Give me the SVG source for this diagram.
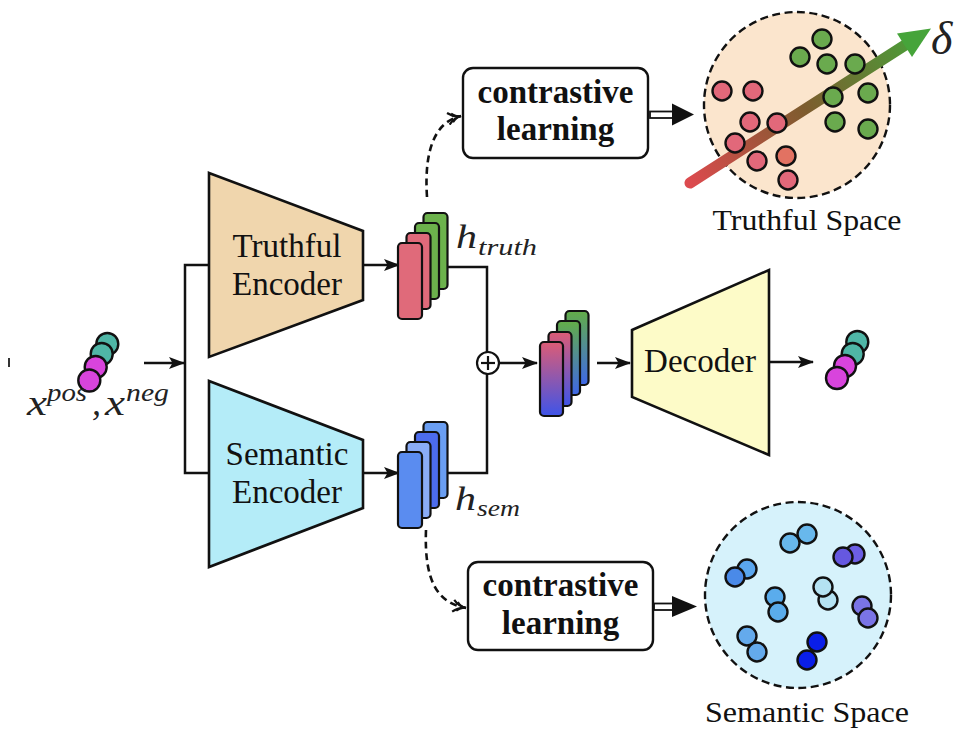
<svg xmlns="http://www.w3.org/2000/svg" width="954" height="729" viewBox="0 0 954 729">
  <defs>
    <style>
      .lbl { font-family: "Liberation Serif", "Times New Roman", serif; fill: #111; }
      .big { font-size: 33px; }
      .bold { font-size: 33px; font-weight: bold; }
      .cap { font-size: 30px; }
      .math { font-family: "Liberation Serif", "Times New Roman", serif; font-style: italic; fill: #222; }
      .wire { fill: none; stroke: #111; stroke-width: 2.5; }
      .dash { fill: none; stroke: #111; stroke-width: 2.6; stroke-dasharray: 7 4.5; }
      .feat { stroke: #111; stroke-width: 2.2; }
      .dot { stroke: #111; stroke-width: 2.4; }
      .box { fill: #fff; stroke: #111; stroke-width: 2.4; }
      .space { stroke: #111; stroke-width: 2.4; stroke-dasharray: 8 4.5; }
    </style>
    <marker id="arrow" viewBox="0 0 16 12" refX="15" refY="6" markerWidth="16" markerHeight="12" markerUnits="userSpaceOnUse" orient="auto">
      <path d="M0,0 L16,6 L0,12 L3.5,6 z" fill="#111"/>
    </marker>
    <marker id="open" viewBox="0 0 16 14" refX="14" refY="7" markerWidth="16" markerHeight="14" markerUnits="userSpaceOnUse" orient="auto">
      <path d="M1,1 Q7,7 14,7 Q7,7 1,13" fill="none" stroke="#111" stroke-width="2.2"/>
      <path d="M5,2.5 Q9,7 14,7 Q9,7 5,11.5" fill="none" stroke="#111" stroke-width="1.8"/>
    </marker>
    <linearGradient id="pinkBlue" x1="0" y1="0" x2="0" y2="1">
      <stop offset="0" stop-color="#dc5c76"/>
      <stop offset="1" stop-color="#3e54e8"/>
    </linearGradient>
    <linearGradient id="greenBlue" x1="0" y1="0" x2="0" y2="1">
      <stop offset="0" stop-color="#62ad48"/>
      <stop offset="1" stop-color="#3f68e8"/>
    </linearGradient>
    <linearGradient id="delta" gradientUnits="userSpaceOnUse" x1="690" y1="183" x2="930" y2="29">
      <stop offset="0" stop-color="#dc4a4e"/>
      <stop offset="0.48" stop-color="#7d5c2e"/>
      <stop offset="1" stop-color="#44a63a"/>
    </linearGradient>
  </defs>

  <rect width="954" height="729" fill="#fff"/>

  <!-- stray tick at left margin -->
  <line x1="9" y1="358" x2="9" y2="367" stroke="#333" stroke-width="2"/>

  <!-- connectors -->
  <g id="connectors">
    <line class="wire" x1="144" y1="363" x2="184" y2="363" marker-end="url(#arrow)"/>
    <polyline class="wire" points="209,265 185,265 185,473 209,473"/>
    <line class="wire" x1="363" y1="265" x2="399" y2="265" marker-end="url(#arrow)"/>
    <line class="wire" x1="363" y1="473" x2="399" y2="473" marker-end="url(#arrow)"/>
    <polyline class="wire" points="448,267 487,267 487,473 448,473"/>
    <line class="wire" x1="499" y1="363" x2="537" y2="363" marker-end="url(#arrow)"/>
    <line class="wire" x1="597" y1="363" x2="630" y2="363" marker-end="url(#arrow)"/>
    <line class="wire" x1="769" y1="362" x2="813" y2="362" marker-end="url(#arrow)"/>
    <path class="dash" d="M427,197 C424,152 434,122 461,116" marker-end="url(#open)"/>
    <path class="dash" d="M426,530 C424,582 438,603 466,608" marker-end="url(#open)"/>
    <!-- hollow double arrows -->
    <rect x="650" y="111.5" width="24" height="6.5" fill="#fff" stroke="#111" stroke-width="1.8"/>
    <path d="M672,103.5 L694,114.5 L672,125.5 z" fill="#111"/>
    <rect x="654" y="603.5" width="20" height="6.5" fill="#fff" stroke="#111" stroke-width="1.8"/>
    <path d="M672,596 L697,606.5 L672,617 z" fill="#111"/>
  </g>

  <!-- input samples -->
  <g id="input">
    <circle class="dot" cx="107.3" cy="344" r="11" fill="#4fb6a6"/>
    <circle class="dot" cx="101.7" cy="354" r="11" fill="#4fb6a6"/>
    <circle class="dot" cx="95.7" cy="367" r="11" fill="#d844dc"/>
    <circle class="dot" cx="89.3" cy="380.5" r="11" fill="#d844dc"/>
    <text class="math" x="27" y="415" font-size="36" textLength="20" lengthAdjust="spacingAndGlyphs">x</text>
    <text class="math" x="47" y="401" font-size="25" textLength="40" lengthAdjust="spacingAndGlyphs">pos</text>
    <text class="math" x="92" y="415" font-size="36">,</text>
    <text class="math" x="105" y="415" font-size="36" textLength="20" lengthAdjust="spacingAndGlyphs">x</text>
    <text class="math" x="126" y="401" font-size="25" textLength="43" lengthAdjust="spacingAndGlyphs">neg</text>
  </g>

  <!-- truthful encoder -->
  <g id="truthful-encoder">
    <polygon points="209,173 363,231 363,300 209,357" fill="#f0d6ad" stroke="#111" stroke-width="2.6"/>
    <text class="lbl big" x="287" y="257" text-anchor="middle">Truthful</text>
    <text class="lbl big" x="287" y="295" text-anchor="middle">Encoder</text>
  </g>

  <!-- semantic encoder -->
  <g id="semantic-encoder">
    <polygon points="209,381 363,440 363,508 209,567" fill="#b4ecf8" stroke="#111" stroke-width="2.6"/>
    <text class="lbl big" x="287" y="465" text-anchor="middle">Semantic</text>
    <text class="lbl big" x="287" y="503" text-anchor="middle">Encoder</text>
  </g>

  <!-- truthful features -->
  <g id="h-truth">
    <rect class="feat" x="423.5" y="213" width="24" height="76" rx="4" fill="#6cb24c"/>
    <rect class="feat" x="415" y="223" width="24" height="76" rx="4" fill="#6cb24c"/>
    <rect class="feat" x="406.5" y="233" width="24" height="76" rx="4" fill="#e06a7a"/>
    <rect class="feat" x="398" y="243" width="24" height="76" rx="4" fill="#e06a7a"/>
    <text class="math" x="456" y="248" font-size="34" textLength="21" lengthAdjust="spacingAndGlyphs">h</text>
    <text class="math" x="478" y="255" font-size="23" textLength="59" lengthAdjust="spacingAndGlyphs">truth</text>
  </g>

  <!-- semantic features -->
  <g id="h-sem">
    <rect class="feat" x="423.5" y="422" width="24" height="76" rx="4" fill="#6a9ef2"/>
    <rect class="feat" x="415" y="432" width="24" height="76" rx="4" fill="#4c6cee"/>
    <rect class="feat" x="406.5" y="442" width="24" height="76" rx="4" fill="#8aacf6"/>
    <rect class="feat" x="398" y="452" width="24" height="76" rx="4" fill="#5a8cf0"/>
    <text class="math" x="455" y="510" font-size="34" textLength="21" lengthAdjust="spacingAndGlyphs">h</text>
    <text class="math" x="477" y="516" font-size="23" textLength="43" lengthAdjust="spacingAndGlyphs">sem</text>
  </g>

  <!-- fusion -->
  <g id="merge">
    <circle cx="488" cy="363" r="11" fill="#fff" stroke="#111" stroke-width="2.2"/>
    <line x1="481" y1="363" x2="495" y2="363" stroke="#111" stroke-width="2.2"/>
    <line x1="488" y1="356" x2="488" y2="370" stroke="#111" stroke-width="2.2"/>
  </g>

  <!-- fused features -->
  <g id="fused">
    <rect class="feat" x="565.5" y="311" width="23" height="74" rx="4" fill="url(#greenBlue)"/>
    <rect class="feat" x="557" y="321" width="23" height="74" rx="4" fill="url(#greenBlue)"/>
    <rect class="feat" x="548.5" y="332" width="23" height="74" rx="4" fill="url(#pinkBlue)"/>
    <rect class="feat" x="540" y="342" width="23" height="74" rx="4" fill="url(#pinkBlue)"/>
  </g>

  <!-- decoder -->
  <g id="decoder">
    <polygon points="632,330 769,270 769,455 632,397" fill="#fdfbc8" stroke="#111" stroke-width="2.6"/>
    <text class="lbl big" x="700" y="372" text-anchor="middle">Decoder</text>
  </g>

  <!-- reconstructed samples -->
  <g id="output">
    <circle class="dot" cx="857.3" cy="342" r="11" fill="#4fb6a6"/>
    <circle class="dot" cx="852.7" cy="354" r="11" fill="#4fb6a6"/>
    <circle class="dot" cx="845" cy="366" r="11" fill="#d844dc"/>
    <circle class="dot" cx="837" cy="378" r="11" fill="#d844dc"/>
  </g>

  <!-- contrastive learning (truthful) -->
  <g id="cl-top">
    <rect class="box" x="463" y="68" width="185" height="90" rx="10"/>
    <text class="lbl bold" x="555.5" y="103" text-anchor="middle">contrastive</text>
    <text class="lbl bold" x="555.5" y="140" text-anchor="middle">learning</text>
  </g>

  <!-- contrastive learning (semantic) -->
  <g id="cl-bottom">
    <rect class="box" x="468" y="562" width="185" height="88" rx="10"/>
    <text class="lbl bold" x="560.5" y="596" text-anchor="middle">contrastive</text>
    <text class="lbl bold" x="560.5" y="634" text-anchor="middle">learning</text>
  </g>

  <!-- truthful space -->
  <g id="truthful-space">
    <circle class="space" cx="797" cy="105" r="93" fill="#fbe5cd"/>
    <line x1="690" y1="183" x2="906" y2="44.5" stroke="url(#delta)" stroke-width="11" stroke-linecap="round"/>
    <polygon points="931,28.5 912,57 897,33.5" fill="#46a43a"/>
    <g fill="#6aaa4e" class="dot">
      <circle cx="822" cy="39" r="9.5"/>
      <circle cx="800" cy="57" r="9.5"/>
      <circle cx="827" cy="64" r="9.5"/>
      <circle cx="855" cy="64" r="9.5"/>
      <circle cx="833" cy="97" r="9.5"/>
      <circle cx="868" cy="93" r="9.5"/>
      <circle cx="835" cy="122" r="9.5"/>
      <circle cx="868" cy="129" r="9.5"/>
    </g>
    <g fill="#e2687a" class="dot">
      <circle cx="722" cy="91" r="9.5"/>
      <circle cx="753" cy="91" r="9.5"/>
      <circle cx="750" cy="122" r="9.5"/>
      <circle cx="777" cy="123" r="9.5"/>
      <circle cx="735" cy="143" r="9.5"/>
      <circle cx="757" cy="161" r="9.5"/>
      <circle cx="788" cy="180" r="9.5"/>
      <circle cx="786" cy="156" r="9.5" fill="#e27262"/>
    </g>
    <text class="math" x="931" y="54" font-size="46">δ</text>
    <text class="lbl cap" x="807" y="230" text-anchor="middle" textLength="189" lengthAdjust="spacingAndGlyphs">Truthful Space</text>
  </g>

  <!-- semantic space -->
  <g id="semantic-space">
    <circle class="space" cx="798" cy="595" r="93" fill="#d6f2fb"/>
    <g class="dot">
      <circle cx="807" cy="534" r="9.5" fill="#68b8ec"/>
      <circle cx="790" cy="543" r="9.5" fill="#68b8ec"/>
      <circle cx="855" cy="554" r="9.5" fill="#6c5ee4"/>
      <circle cx="843" cy="557" r="9.5" fill="#6658e0"/>
      <circle cx="747" cy="569" r="9.5" fill="#5aa6ee"/>
      <circle cx="735" cy="577" r="9.5" fill="#4a8ae8"/>
      <circle cx="828" cy="600" r="9.5" fill="#b4e2f2"/>
      <circle cx="823" cy="587" r="9.5" fill="#b4e2f2"/>
      <circle cx="775" cy="597" r="9.5" fill="#5aacec"/>
      <circle cx="778" cy="612" r="9.5" fill="#5aacec"/>
      <circle cx="862" cy="606" r="9.5" fill="#7a74e6"/>
      <circle cx="868" cy="618" r="9.5" fill="#7a74e6"/>
      <circle cx="747" cy="636" r="9.5" fill="#64aaec"/>
      <circle cx="757" cy="652" r="9.5" fill="#64aaec"/>
      <circle cx="817" cy="642" r="9.5" fill="#0a1ee8"/>
      <circle cx="807" cy="660" r="9.5" fill="#0a1ee8"/>
    </g>
    <text class="lbl cap" x="807" y="722" text-anchor="middle" textLength="204" lengthAdjust="spacingAndGlyphs">Semantic Space</text>
  </g>
</svg>
